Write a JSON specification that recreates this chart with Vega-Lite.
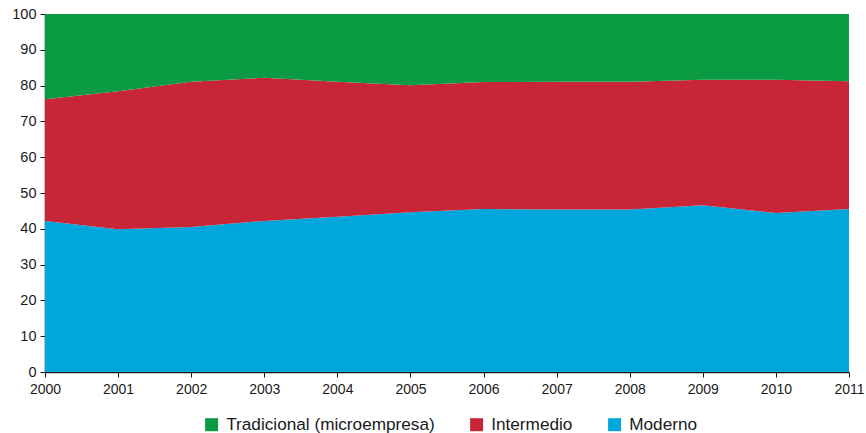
{
  "$schema": "https://vega.github.io/schema/vega-lite/v6.json",
  "autosize": "none",
  "width": 804,
  "height": 358,
  "padding": {"left": 45, "top": 14, "right": 17, "bottom": 61},
  "background": "white",
  "config": {
    "view": {"stroke": null},
    "font": "Liberation Sans"
  },
  "data": {
    "values": [
      {"year": 2000, "sector": "Moderno", "share": 42.2},
      {"year": 2001, "sector": "Moderno", "share": 39.9},
      {"year": 2002, "sector": "Moderno", "share": 40.5},
      {"year": 2003, "sector": "Moderno", "share": 42.2},
      {"year": 2004, "sector": "Moderno", "share": 43.4},
      {"year": 2005, "sector": "Moderno", "share": 44.6},
      {"year": 2006, "sector": "Moderno", "share": 45.5},
      {"year": 2007, "sector": "Moderno", "share": 45.4},
      {"year": 2008, "sector": "Moderno", "share": 45.4},
      {"year": 2009, "sector": "Moderno", "share": 46.6},
      {"year": 2010, "sector": "Moderno", "share": 44.4},
      {"year": 2011, "sector": "Moderno", "share": 45.5},
      {"year": 2000, "sector": "Intermedio", "share": 34.0},
      {"year": 2001, "sector": "Intermedio", "share": 38.5},
      {"year": 2002, "sector": "Intermedio", "share": 40.6},
      {"year": 2003, "sector": "Intermedio", "share": 40.0},
      {"year": 2004, "sector": "Intermedio", "share": 37.7},
      {"year": 2005, "sector": "Intermedio", "share": 35.5},
      {"year": 2006, "sector": "Intermedio", "share": 35.5},
      {"year": 2007, "sector": "Intermedio", "share": 35.7},
      {"year": 2008, "sector": "Intermedio", "share": 35.7},
      {"year": 2009, "sector": "Intermedio", "share": 35.0},
      {"year": 2010, "sector": "Intermedio", "share": 37.2},
      {"year": 2011, "sector": "Intermedio", "share": 35.7},
      {"year": 2000, "sector": "Tradicional (microempresa)", "share": 23.8},
      {"year": 2001, "sector": "Tradicional (microempresa)", "share": 21.6},
      {"year": 2002, "sector": "Tradicional (microempresa)", "share": 18.9},
      {"year": 2003, "sector": "Tradicional (microempresa)", "share": 17.8},
      {"year": 2004, "sector": "Tradicional (microempresa)", "share": 18.9},
      {"year": 2005, "sector": "Tradicional (microempresa)", "share": 19.9},
      {"year": 2006, "sector": "Tradicional (microempresa)", "share": 19.0},
      {"year": 2007, "sector": "Tradicional (microempresa)", "share": 18.9},
      {"year": 2008, "sector": "Tradicional (microempresa)", "share": 18.9},
      {"year": 2009, "sector": "Tradicional (microempresa)", "share": 18.4},
      {"year": 2010, "sector": "Tradicional (microempresa)", "share": 18.4},
      {"year": 2011, "sector": "Tradicional (microempresa)", "share": 18.8}
    ]
  },
  "transform": [
    {"calculate": "datum.sector === 'Moderno' ? 0 : datum.sector === 'Intermedio' ? 1 : 2", "as": "layer"}
  ],
  "mark": {"type": "area", "opacity": 1},
  "encoding": {
    "x": {
      "field": "year",
      "type": "quantitative",
      "scale": {"domain": [2000, 2011], "nice": false, "zero": false},
      "axis": {
        "title": null,
        "values": [2000, 2001, 2002, 2003, 2004, 2005, 2006, 2007, 2008, 2009, 2010, 2011],
        "format": "d",
        "grid": false,
        "domainColor": "#1a1a1a",
        "domainWidth": 1.5,
        "tickColor": "#1a1a1a",
        "tickSize": 5,
        "labelFontSize": 14,
        "labelColor": "#1a1a1a",
        "labelPadding": 5,
        "labelFlush": false,
        "labelOverlap": false
      }
    },
    "y": {
      "field": "share",
      "type": "quantitative",
      "stack": "zero",
      "scale": {"domain": [0, 100], "nice": false},
      "axis": {
        "title": null,
        "values": [0, 10, 20, 30, 40, 50, 60, 70, 80, 90, 100],
        "grid": false,
        "domainColor": "#1a1a1a",
        "domainWidth": 1.5,
        "tickColor": "#1a1a1a",
        "tickSize": 5,
        "labelFontSize": 14.5,
        "labelColor": "#1a1a1a",
        "labelPadding": 4
      }
    },
    "color": {
      "field": "sector",
      "type": "nominal",
      "scale": {
        "domain": ["Tradicional (microempresa)", "Intermedio", "Moderno"],
        "range": ["#0a9b43", "#c82536", "#00a7dc"]
      },
      "legend": {
        "title": null,
        "orient": "none",
        "direction": "horizontal",
        "legendX": 158,
        "legendY": 402,
        "symbolType": "square",
        "symbolSize": 169,
        "symbolStrokeWidth": 0,
        "symbolOpacity": 1,
        "labelFontSize": 17.2,
        "labelLimit": 0,
        "labelColor": "#1a1a1a",
        "labelOffset": 6,
        "columnPadding": 33
      }
    },
    "order": {"field": "layer", "type": "quantitative"}
  }
}
